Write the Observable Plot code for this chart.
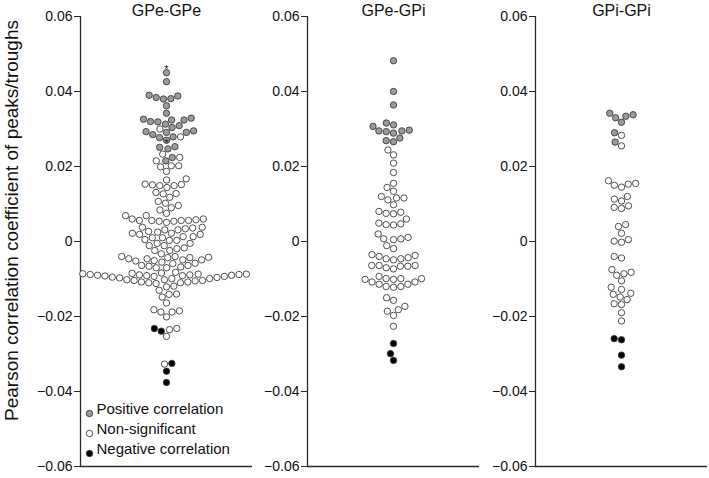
<!DOCTYPE html>
<html><head><meta charset="utf-8">
<script src="https://cdn.jsdelivr.net/npm/d3@7"></script>
<script src="https://cdn.jsdelivr.net/npm/@observablehq/plot@0.6"></script>
<style>
body{margin:0;background:#fff;}
#chart{display:flex;width:709px;height:478px;overflow:hidden;}
</style></head><body><div id="chart"></div>
<script>
const panelTitles = ["GPe-GPe", "GPe-GPi", "GPi-GPi"];
const categories = ["Positive correlation", "Non-significant", "Negative correlation"];
const categoryFills = ["#9b9b9b", "#ffffff", "#000000"];
const yTicks = [-0.06, -0.04, -0.02, 0, 0.02, 0.04, 0.06];
const yLabel = "Pearson correlation coefficient of peaks/troughs";

// GPe-GPe
const gpeGpePositive = [0.0450, 0.0426, 0.0388, 0.0381, 0.0380, 0.0384, 0.0390, 0.0362, 0.0342,
  0.0326, 0.0324, 0.0329, 0.0319, 0.0313, 0.0304, 0.0295, 0.0291, 0.0291, 0.0293, 0.0309, 0.0320, 0.0324,
  0.0277, 0.0270, 0.0279, 0.0285, 0.0253, 0.0251, 0.0247, 0.0215, 0.0224];
const gpeGpeNonsig = [0.0300, 0.0279, 0.0224, 0.0233, 0.0215, 0.0202, 0.0199, 0.0187, 0.0202,
  0.0167, 0.0164, 0.0151, 0.0149, 0.0144, 0.0149, 0.0152, 0.0153, 0.0127, 0.0128, 0.0131, 0.0118,
  0.0107, 0.0096, 0.0090, 0.0102,
  0.0084, 0.0069, 0.0060, 0.0056, 0.0056, 0.0054, 0.0051, 0.0054, 0.0056, 0.0056, 0.0058, 0.0060, 0.0069, 0.0075,
  0.0038, 0.0036, 0.0031, 0.0027, 0.0022, 0.0019, 0.0013, 0.0010, 0.0010, 0.0013, 0.0019, 0.0022, 0.0025, 0.0031, 0.0034, 0.0038,
  0.0005, 0.0003, -0.0005, -0.0011, -0.0019, -0.0024, -0.0033, -0.0024, -0.0017, -0.0011, -0.0005, 0.0003,
  -0.0040, -0.0042, -0.0043, -0.0046, -0.0049, -0.0052, -0.0058, -0.0064, -0.0068, -0.0070, -0.0070, -0.0066,
  -0.0064, -0.0059, -0.0055, -0.0051, -0.0049, -0.0046, -0.0043, -0.0040,
  -0.0084, -0.0086, -0.0087, -0.0088, -0.0088, -0.0089, -0.0090, -0.0091, -0.0093, -0.0096, -0.0099, -0.0102,
  -0.0104, -0.0105, -0.0104, -0.0102, -0.0099, -0.0097, -0.0095, -0.0093, -0.0092, -0.0091, -0.0090, -0.0089,
  -0.0087, -0.0085, -0.0082,
  -0.0108, -0.0110, -0.0112, -0.0110, -0.0108, -0.0121, -0.0119, -0.0141, -0.0148, -0.0140, -0.0130, -0.0164,
  -0.0182, -0.0188, -0.0188, -0.0185, -0.0201, -0.0235, -0.0232, -0.0253, -0.0327];
const gpeGpeNegative = [-0.0232, -0.0239, -0.0325, -0.0346, -0.0376];
const gpeGpeStarred = [0.0450, 0.0253];

// GPe-GPi
const gpeGpiPositive = [0.0482, 0.0400, 0.0364, 0.0297, 0.0293, 0.0289, 0.0311, 0.0307, 0.0316, 0.0295, 0.0295,
  0.0269, 0.0266, 0.0276];
const gpeGpiNonsig = [0.0244, 0.0231, 0.0209, 0.0184, 0.0155, 0.0144, 0.0134, 0.0120, 0.0116, 0.0111, 0.0116, 0.0098,
  0.0078, 0.0075, 0.0074, 0.0080, 0.0060, 0.0047, 0.0045, 0.0044, 0.0049, 0.0020, 0.0011, 0.0005, -0.0011, 0.0007, 0.0007,
  -0.0019, -0.0040, -0.0043, -0.0046, -0.0049, -0.0046, -0.0037, -0.0035, -0.0064, -0.0064, -0.0066, -0.0073, -0.0070,
  -0.0066, -0.0064, -0.0093, -0.0099, -0.0099, -0.0101, -0.0108, -0.0114, -0.0120, -0.0122, -0.0120, -0.0114, -0.0108,
  -0.0101, -0.0099, -0.0150, -0.0157, -0.0173, -0.0186, -0.0197, -0.0182, -0.0226];
const gpeGpiNegative = [-0.0272, -0.0299, -0.0317];

// GPi-GPi
const gpiGpiPositive = [0.0342, 0.0338, 0.0334, 0.0330, 0.0318, 0.0290, 0.0265];
const gpiGpiNonsig = [0.0283, 0.0255, 0.0162, 0.0155, 0.0150, 0.0153, 0.0145, 0.0120, 0.0113, 0.0108, 0.0095, 0.0091,
  0.0088, 0.0045, 0.0040, 0.0022, 0.0005, -0.0002, 0.0001, -0.0040, -0.0044, -0.0075, -0.0082, -0.0086, -0.0090,
  -0.0105, -0.0122, -0.0128, -0.0138, -0.0141, -0.0148, -0.0155, -0.0166, -0.0168, -0.0190, -0.0212];
const gpiGpiNegative = [-0.0259, -0.0262, -0.0303, -0.0334];

const panels = [
  {title: panelTitles[0], groups: [gpeGpePositive, gpeGpeNonsig, gpeGpeNegative], starred: gpeGpeStarred,
   width: 252, marginLeft: 80, marginRight: 0, yLabel: true, legend: true},
  {title: panelTitles[1], groups: [gpeGpiPositive, gpeGpiNonsig, gpeGpiNegative], starred: [],
   width: 227, marginLeft: 55, marginRight: 0},
  {title: panelTitles[2], groups: [gpiGpiPositive, gpiGpiNonsig, gpiGpiNegative], starred: [],
   width: 230, marginLeft: 56, marginRight: 2}
];

const axisColor = "#2a2a2a";
const font = "'Liberation Sans', Arial, Helvetica, sans-serif";

for (const p of panels) {
  const rows = p.groups.flatMap((vals, c) => vals.map(v => ({v, c}))).sort((a, b) => a.v - b.v);
  const marks = [
    Plot.ruleX([0], {stroke: axisColor, strokeWidth: 1.3}),
    Plot.ruleY([-0.06], {stroke: axisColor, strokeWidth: 1.3}),
    Plot.axisY({ticks: yTicks, tickFormat: d => d === 0 ? "0" : d3.format(".2f")(d),
      tickSize: 6, tickPadding: 2, fontSize: 14, label: null, stroke: axisColor, color: "#111"}),
    Plot.dot(rows, Plot.dodgeX("middle", {y: "v", r: 3.2, padding: 0.3,
      fill: d => categoryFills[d.c], stroke: "#3c3c3c", strokeWidth: 0.9})),
    Plot.text(p.starred, {y: d => d, text: () => "*", dy: -3, fontSize: 11, fill: "#111"}),
    Plot.text([p.title], {frameAnchor: "top", lineAnchor: "bottom", dy: -1, fontSize: 16, fill: "#111"})
  ];
  if (p.yLabel) {
    marks.push(Plot.text([yLabel], {frameAnchor: "left", textAnchor: "middle", rotate: -90, dx: -69, dy: -21,
      fontSize: 19, fill: "#111"}));
  }
  if (p.legend) {
    categories.forEach((name, i) => {
      marks.push(Plot.dot([name], {frameAnchor: "bottom-left", dx: 9, dy: -53 + 20 * i, r: 3.2,
        fill: categoryFills[i], stroke: "#3c3c3c", strokeWidth: 0.9}));
      marks.push(Plot.text([name], {frameAnchor: "bottom-left", dx: 16, dy: -53 + 20 * i, text: d => d,
        textAnchor: "start", fontSize: 15, fill: "#111"}));
    });
  }
  const svg = Plot.plot({
    width: p.width, height: 478,
    marginLeft: p.marginLeft, marginRight: p.marginRight, marginTop: 16, marginBottom: 12,
    x: {domain: [0, 1], axis: null},
    y: {domain: [-0.06, 0.06], axis: null},
    color: {type: "identity"},
    style: {fontFamily: font, background: "white", overflow: "visible"},
    marks
  });
  document.getElementById("chart").appendChild(svg);
}
</script></body></html>
